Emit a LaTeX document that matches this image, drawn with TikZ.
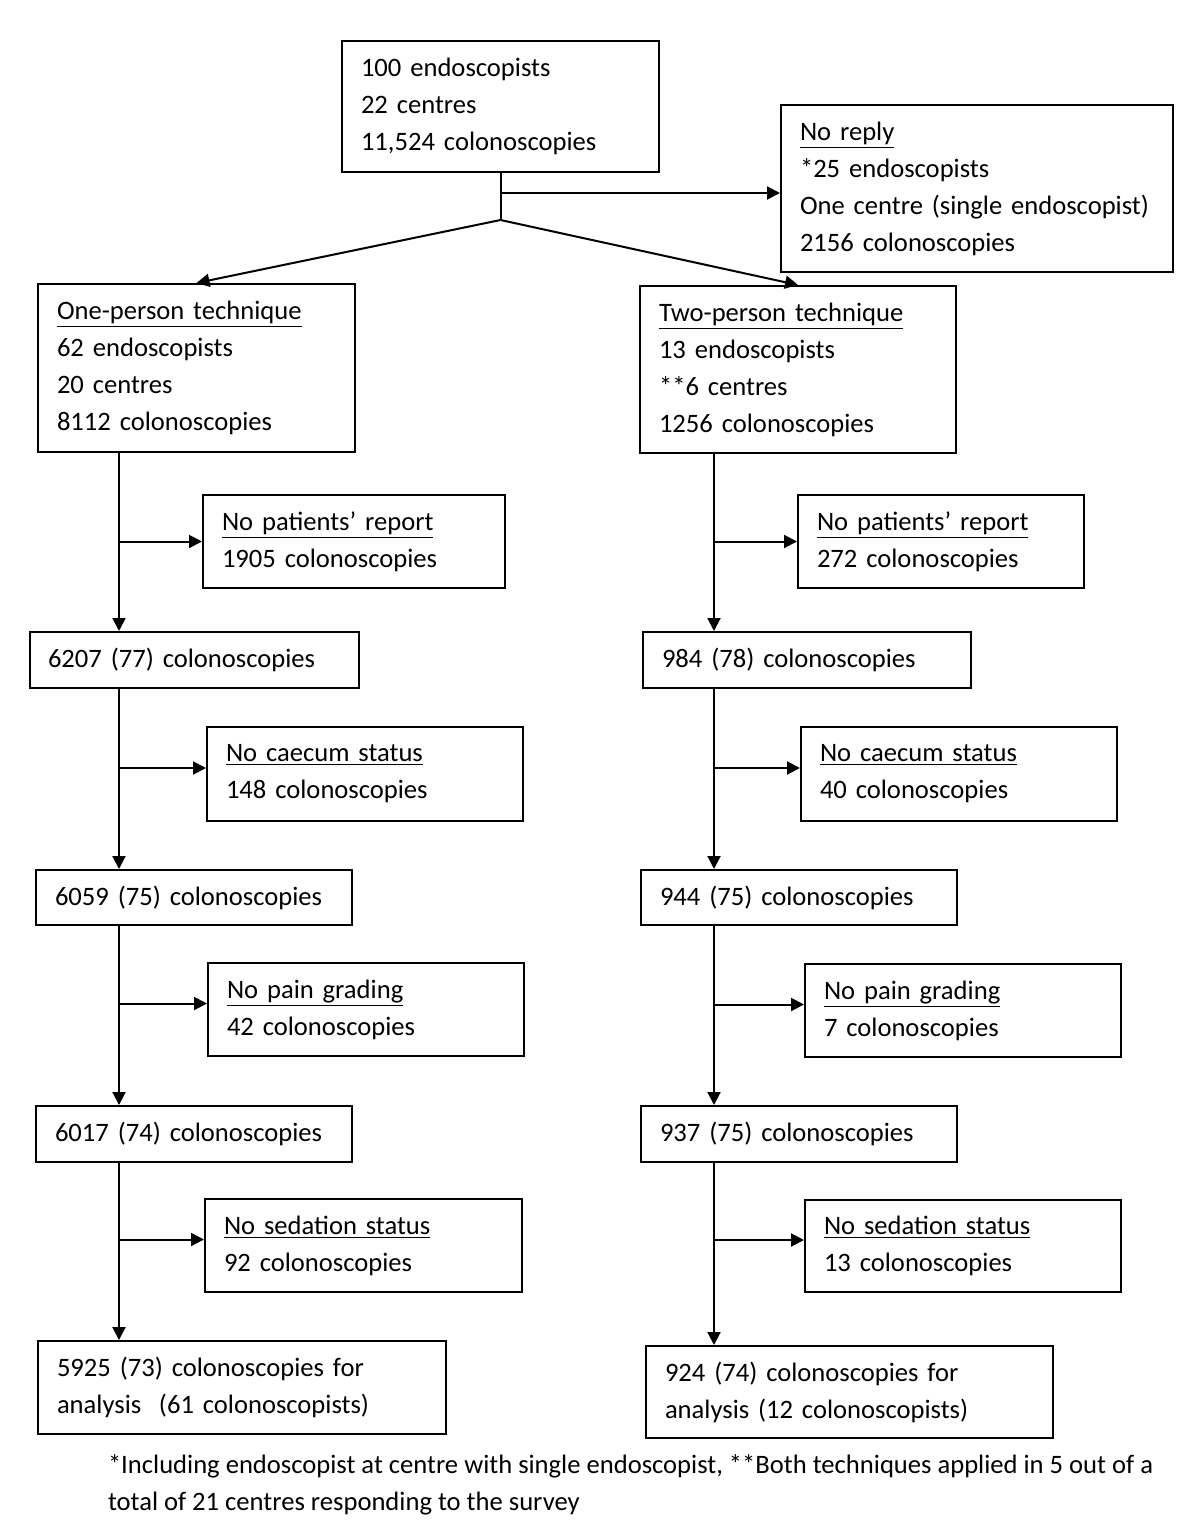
\documentclass[tikz,border=0pt]{standalone}
\usepackage{fontspec}
\setmainfont{Carlito}
\usepackage{tikz}
\usetikzlibrary{arrows.meta}

\begin{document}
\begin{tikzpicture}[
            x = 1pt, y = -1pt, % measured from the top left corner
            > = {Triangle[length=6.5pt, width=6.5pt]}, % arrow head style
            line width = 1pt % line style
        ]

        \tikzstyle{box}=[
            draw = black,
            line width = 1pt,
            anchor = north west,
            align = left,
            inner xsep = 9.5pt,
            inner ysep = 0pt,
            text width = 139.5pt,
            font = \fontsize{13.3}{18.5}\selectfont
        ]

        \useasboundingbox (0,0) rectangle (600,766);

	% top of the chart
	\node[box, minimum height=65.5pt] (all) at (170.5,20) {100 endoscopists\\22 centres\\11,524 colonoscopies};
	\node[box, text width=177pt, minimum height=83.5pt] (noreply) at (390,52) {\underline{No reply}\\{*}25 endoscopists\\One centre (single endoscopist)\\2156 colonoscopies};
	\node[box, minimum height=84pt] (one) at (18.5,141.5) {\underline{One-person technique}\\62 endoscopists\\20 centres\\8112 colonoscopies};
	\node[box, text width=139pt, minimum height=83.5pt] (two) at (319.5,142.5) {\underline{Two-person technique}\\13 endoscopists\\{**}6 centres\\1256 colonoscopies};

	% one-person column
	\node[box, text width=132pt, minimum height=46.5pt] (onenp) at (101,247) {\underline{No patients’ report}\\1905 colonoscopies};
	\node[box, text width=146.5pt, inner xsep=9pt, minimum height=28pt] (onea) at (14.5,315.5) {6207 (77) colonoscopies};
	\node[box, text width=139pt, minimum height=47pt] (onecae) at (103,363) {\underline{No caecum status}\\148 colonoscopies};
	\node[box, text width=139pt, minimum height=27.5pt] (oneb) at (17.5,434.5) {6059 (75) colonoscopies};
	\node[box, text width=139pt, minimum height=46.5pt] (onepain) at (103.5,481) {\underline{No pain grading}\\42 colonoscopies};
	\node[box, text width=139pt, minimum height=28pt] (onec) at (17.5,552.5) {6017 (74) colonoscopies};
	\node[box, text width=139.5pt, minimum height=46.5pt] (onesed) at (102,599) {\underline{No sedation status}\\92 colonoscopies};
	\node[box, text width=185pt, minimum height=46.5pt] (onefin) at (18.5,670) {5925 (73) colonoscopies for\\analysis\ \ (61 colonoscopists)};

	% two-person column
	\node[box, text width=124pt, minimum height=46.5pt] (twonp) at (398.5,247) {\underline{No patients’ report}\\272 colonoscopies};
	\node[box, text width=145pt, minimum height=28pt] (twoa) at (321,315.5) {984 (78) colonoscopies};
	\node[box, text width=139pt, minimum height=47pt] (twocae) at (400,363) {\underline{No caecum status}\\40 colonoscopies};
	\node[box, text width=139pt, minimum height=27.5pt] (twob) at (320,434.5) {944 (75) colonoscopies};
	\node[box, text width=139pt, minimum height=46.5pt] (twopain) at (402,481.5) {\underline{No pain grading}\\7 colonoscopies};
	\node[box, text width=139pt, minimum height=28pt] (twoc) at (320,552.5) {937 (75) colonoscopies};
	\node[box, text width=139pt, minimum height=46pt] (twosed) at (402,599.5) {\underline{No sedation status}\\13 colonoscopies};
	\node[box, text width=184.5pt, minimum height=46pt] (twofin) at (322.5,672.5) {924 (74) colonoscopies for\\analysis (12 colonoscopists)};

	% footnote
	\node[anchor=north west, align=left, inner sep=0pt,
	      font=\fontsize{13.3}{18.5}\selectfont] (note) at (53.5,727)
	      {{*}Including endoscopist at centre with single endoscopist, {**}Both techniques applied in 5 out of a\\total of 21 centres responding to the survey};

	\coordinate (fork) at (all.south |- 0,96.5);
	\coordinate (split) at (all.south |- 0,110);
	\coordinate (lx) at (59.5,0);
	\coordinate (rx) at (357,0);
	% side arrows sit a little above the middle of the box
	\coordinate (onecaein) at ([yshift=3pt]onecae.west);
	\coordinate (onepainin) at ([yshift=3pt]onepain.west);
	\coordinate (onesedin) at ([yshift=3pt]onesed.west);
	\coordinate (twocaein) at ([yshift=3pt]twocae.west);
	\coordinate (twopainin) at ([yshift=3pt]twopain.west);
	\coordinate (twosedin) at ([yshift=3pt]twosed.west);

        \draw (all.south) -- (split);
        \draw[->] (fork) -- (fork -| noreply.west);
        \draw[->] (split) -- (one.north);
        \draw[->] (split) -- (two.north);

        \draw[->] (lx |- one.south) -- (lx |- onea.north);
        \draw[->] (lx |- onenp.west) -- (onenp.west);
        \draw[->] (lx |- onea.south) -- (lx |- oneb.north);
        \draw[->] (lx |- onecaein) -- (onecaein);
        \draw[->] (lx |- oneb.south) -- (lx |- onec.north);
        \draw[->] (lx |- onepainin) -- (onepainin);
        \draw[->] (lx |- onec.south) -- (lx |- onefin.north);
        \draw[->] (lx |- onesedin) -- (onesedin);

        \draw[->] (rx |- two.south) -- (rx |- twoa.north);
        \draw[->] (rx |- twonp.west) -- (twonp.west);
        \draw[->] (rx |- twoa.south) -- (rx |- twob.north);
        \draw[->] (rx |- twocaein) -- (twocaein);
        \draw[->] (rx |- twob.south) -- (rx |- twoc.north);
        \draw[->] (rx |- twopainin) -- (twopainin);
        \draw[->] (rx |- twoc.south) -- (rx |- twofin.north);
        \draw[->] (rx |- twosedin) -- (twosedin);

    \end{tikzpicture}
\end{document}
